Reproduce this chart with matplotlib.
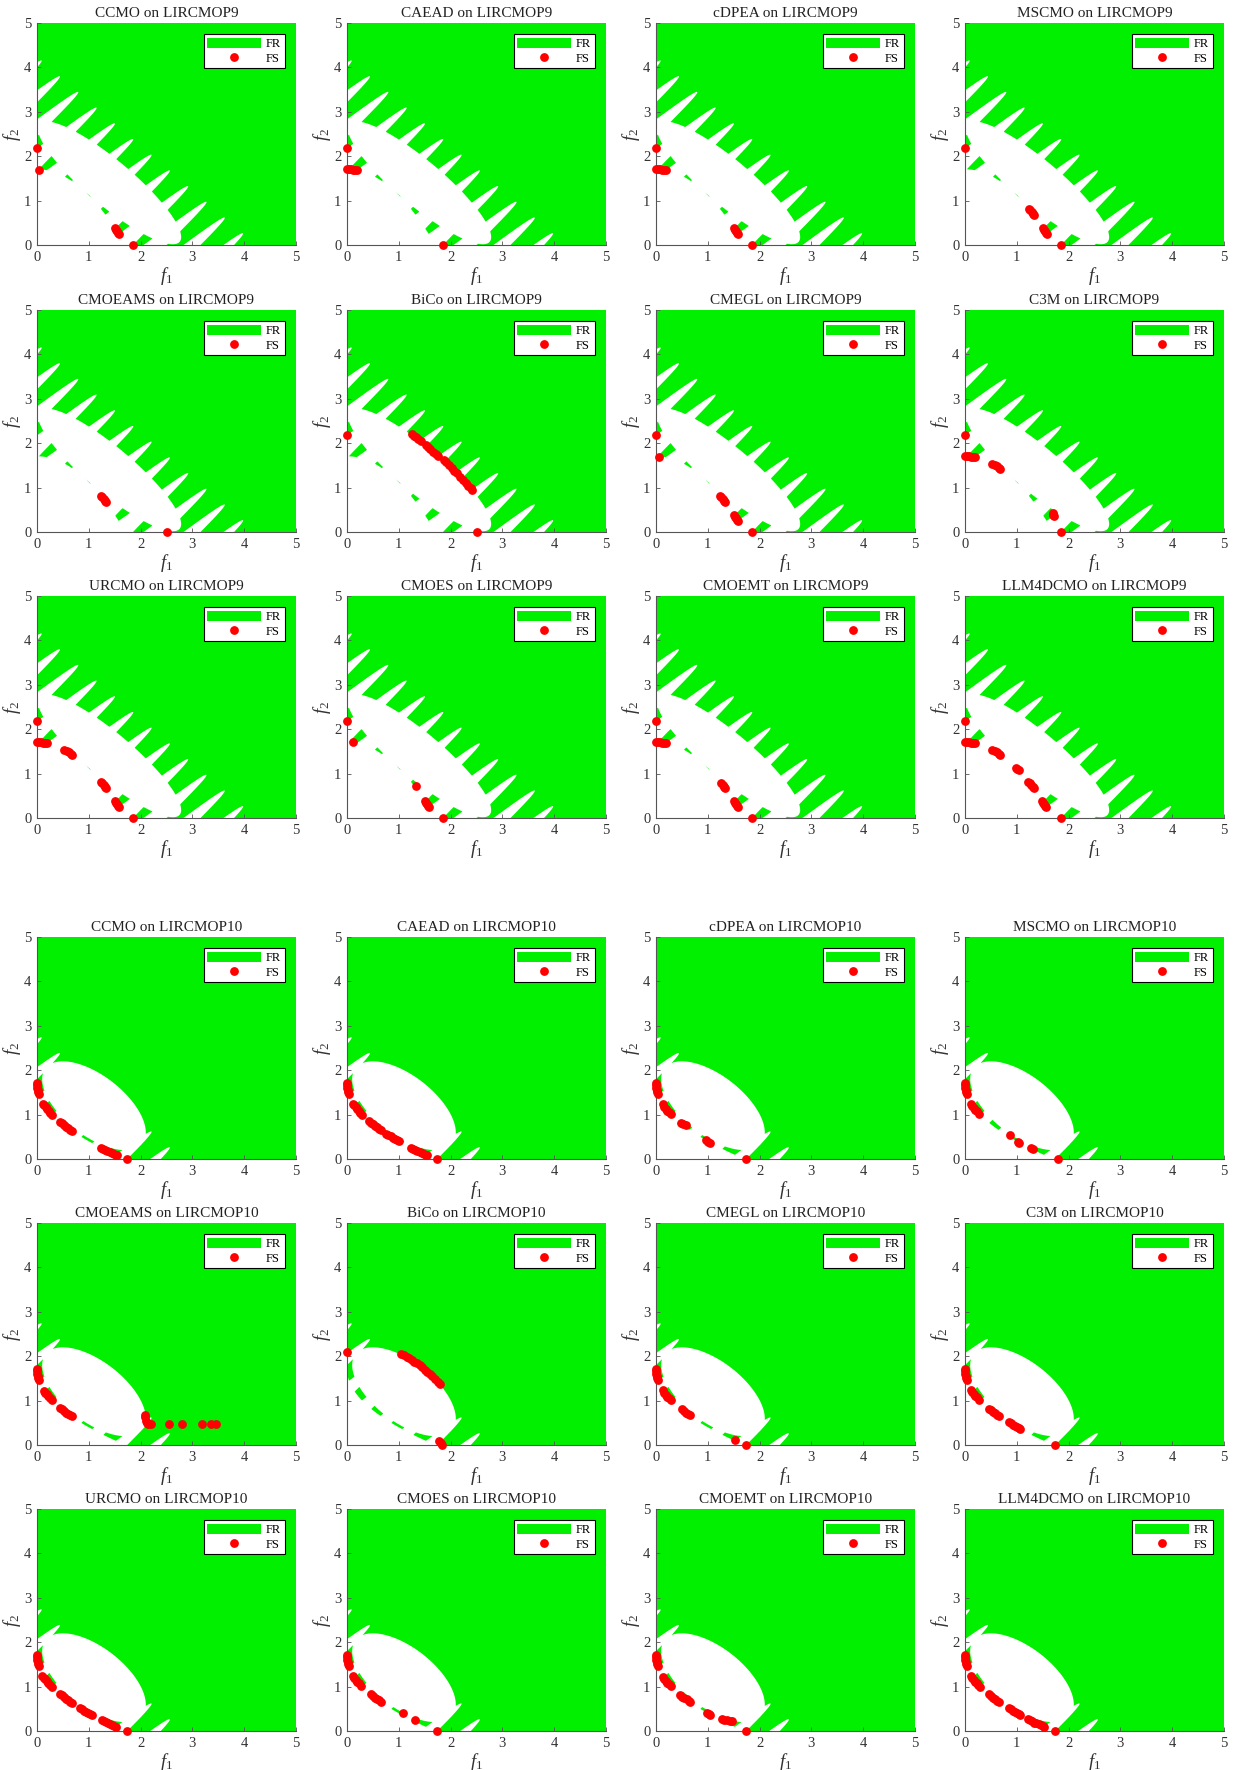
import numpy as np
import matplotlib.pyplot as plt
from matplotlib.patches import Patch
from matplotlib.lines import Line2D

plt.rcParams['font.family'] = ['Liberation Serif', 'DejaVu Serif']
plt.rcParams['mathtext.fontset'] = 'custom'
plt.rcParams['mathtext.it'] = 'Liberation Serif:italic'
plt.rcParams['mathtext.rm'] = 'Liberation Serif'

algorithms = ['CCMO', 'CAEAD', 'cDPEA', 'MSCMO', 'CMOEAMS', 'BiCo',
              'CMEGL', 'C3M', 'URCMO', 'CMOES', 'CMOEMT', 'LLM4DCMO']
problems = ['LIRCMOP9', 'LIRCMOP10']
ticks = [0, 1, 2, 3, 4, 5]

# final solutions (f1, f2) -- LIRCMOP9
ccmo_9 = [(0, 2.182), (0.04, 1.70), (1.50, 0.38), (1.52, 0.34), (1.54, 0.31), (1.56, 0.28),
          (1.58, 0.25), (1.856, 0)]
caead_9 = [(0, 2.182), (0.0, 1.705), (0.04, 1.704), (0.08, 1.702), (0.12, 1.697), (0.16, 1.69),
           (0.2, 1.682), (1.856, 0)]
cdpea_9 = [(0, 2.182), (0.0, 1.705), (0.04, 1.704), (0.08, 1.702), (0.12, 1.697), (0.16, 1.69),
           (0.2, 1.682), (1.50, 0.38), (1.52, 0.34), (1.54, 0.31), (1.56, 0.28), (1.58, 0.25),
           (1.856, 0)]
mscmo_9 = [(0, 2.182), (1.23, 0.82), (1.26, 0.78), (1.29, 0.74), (1.32, 0.70), (1.34, 0.67),
           (1.50, 0.38), (1.52, 0.34), (1.54, 0.31), (1.56, 0.28), (1.58, 0.25), (1.856, 0)]
cmoeams_9 = [(1.23, 0.82), (1.26, 0.78), (1.29, 0.74), (1.32, 0.70), (1.34, 0.67), (2.5, 0)]
bico_9 = [(0, 2.182), (1.25, 2.21), (1.29, 2.17), (1.33, 2.13), (1.38, 2.09), (1.43, 2.04),
          (1.52, 1.97), (1.56, 1.92), (1.61, 1.87), (1.66, 1.81), (1.71, 1.76), (1.76, 1.72),
          (1.88, 1.63), (1.92, 1.57), (1.97, 1.50), (2.02, 1.44), (2.07, 1.38), (2.12, 1.34),
          (2.19, 1.23), (2.24, 1.16), (2.29, 1.10), (2.34, 1.04), (2.39, 0.99), (2.42, 0.95),
          (2.5, 0)]
cmegl_9 = [(0, 2.182), (0.05, 1.70), (1.23, 0.82), (1.26, 0.78), (1.29, 0.74), (1.32, 0.70),
           (1.34, 0.67), (1.50, 0.38), (1.52, 0.34), (1.54, 0.31), (1.56, 0.28), (1.58, 0.25),
           (1.856, 0)]
c3m_9 = [(0, 2.182), (0.0, 1.705), (0.04, 1.704), (0.08, 1.702), (0.12, 1.697), (0.16, 1.69),
         (0.2, 1.682), (0.53, 1.54), (0.57, 1.51), (0.61, 1.48), (0.65, 1.45), (0.68, 1.43),
         (1.69, 0.42), (1.70, 0.38), (1.71, 0.35), (1.856, 0)]
urcmo_9 = [(0, 2.182), (0.0, 1.705), (0.04, 1.704), (0.08, 1.702), (0.12, 1.697), (0.16, 1.69),
           (0.2, 1.682), (0.53, 1.54), (0.57, 1.51), (0.61, 1.48), (0.65, 1.45), (0.68, 1.43),
           (1.23, 0.82), (1.26, 0.78), (1.29, 0.74), (1.32, 0.70), (1.34, 0.67), (1.50, 0.38),
           (1.52, 0.34), (1.54, 0.31), (1.56, 0.28), (1.58, 0.25), (1.856, 0)]
cmoes_9 = [(0, 2.182), (0.11, 1.72), (1.34, 0.71), (1.50, 0.38), (1.52, 0.34), (1.54, 0.31),
           (1.56, 0.28), (1.58, 0.25), (1.856, 0)]
cmoemt_9 = [(0, 2.182), (0.0, 1.705), (0.04, 1.704), (0.08, 1.702), (0.12, 1.697), (0.16, 1.69),
            (0.19, 1.684), (1.26, 0.79), (1.29, 0.74), (1.32, 0.70), (1.34, 0.67), (1.50, 0.38),
            (1.52, 0.34), (1.54, 0.31), (1.56, 0.28), (1.58, 0.25), (1.856, 0)]
llm4dcmo_9 = [(0, 2.182), (0.0, 1.705), (0.04, 1.704), (0.08, 1.702), (0.12, 1.697), (0.16, 1.69),
              (0.19, 1.684), (0.53, 1.54), (0.57, 1.51), (0.61, 1.48), (0.65, 1.45), (0.68, 1.43),
              (0.98, 1.13), (1.01, 1.11), (1.04, 1.09), (1.22, 0.82), (1.25, 0.78), (1.28, 0.74),
              (1.31, 0.70), (1.33, 0.67), (1.49, 0.38), (1.51, 0.34), (1.53, 0.31), (1.55, 0.28),
              (1.57, 0.25), (1.856, 0)]

# final solutions (f1, f2) -- LIRCMOP10
ccmo_10 = [(0.0, 1.71), (0.003, 1.66), (0.008, 1.61), (0.014, 1.56), (0.022, 1.51), (0.032, 1.47),
           (0.11, 1.25), (0.14, 1.21), (0.17, 1.16), (0.2, 1.12), (0.23, 1.08), (0.26, 1.04),
           (0.29, 1.0), (0.44, 0.84), (0.48, 0.80), (0.52, 0.77), (0.56, 0.73), (0.60, 0.70),
           (0.64, 0.66), (0.67, 0.64), (1.24, 0.25), (1.28, 0.23), (1.32, 0.21), (1.36, 0.18),
           (1.40, 0.16), (1.44, 0.14), (1.48, 0.12), (1.52, 0.10), (1.55, 0.09), (1.747, 0)]
caead_10 = [(0.0, 1.71), (0.003, 1.66), (0.008, 1.61), (0.014, 1.56), (0.022, 1.51), (0.032, 1.47),
            (0.11, 1.25), (0.14, 1.21), (0.17, 1.16), (0.2, 1.12), (0.23, 1.08), (0.26, 1.04),
            (0.29, 1.0), (0.42, 0.86), (0.46, 0.82), (0.50, 0.78), (0.54, 0.75), (0.58, 0.71),
            (0.62, 0.68), (0.66, 0.65), (0.76, 0.57), (0.80, 0.54), (0.84, 0.51), (0.88, 0.48),
            (0.92, 0.45), (0.96, 0.43), (1.0, 0.40), (1.24, 0.25), (1.28, 0.23), (1.32, 0.21),
            (1.36, 0.18), (1.40, 0.16), (1.44, 0.14), (1.48, 0.12), (1.52, 0.10), (1.55, 0.09),
            (1.747, 0)]
cdpea_10 = [(0.0, 1.71), (0.003, 1.66), (0.008, 1.61), (0.014, 1.56), (0.022, 1.51), (0.032, 1.47),
            (0.13, 1.23), (0.16, 1.18), (0.19, 1.13), (0.22, 1.09), (0.25, 1.05), (0.28, 1.01),
            (0.48, 0.80), (0.53, 0.78), (0.58, 0.76), (0.97, 0.42), (1.01, 0.39), (1.05, 0.37),
            (1.747, 0)]
mscmo_10 = [(0.0, 1.71), (0.003, 1.66), (0.008, 1.61), (0.014, 1.56), (0.022, 1.51), (0.032, 1.47),
            (0.11, 1.24), (0.14, 1.20), (0.17, 1.15), (0.2, 1.11), (0.23, 1.07), (0.27, 1.02),
            (0.86, 0.53), (1.02, 0.39), (1.05, 0.36), (1.27, 0.24), (1.32, 0.22), (1.8, 0)]
cmoeams_10 = [(0.0, 1.71), (0.003, 1.66), (0.008, 1.61), (0.014, 1.56), (0.022, 1.51), (0.032, 1.47),
              (0.13, 1.22), (0.16, 1.18), (0.19, 1.14), (0.22, 1.10), (0.25, 1.06), (0.29, 1.01),
              (0.44, 0.84), (0.48, 0.80), (0.52, 0.77), (0.56, 0.73), (0.60, 0.70), (0.64, 0.67),
              (0.67, 0.65), (2.08, 0.68), (2.09, 0.62), (2.10, 0.55), (2.12, 0.49), (2.15, 0.47),
              (2.2, 0.47), (2.55, 0.47), (2.8, 0.47), (3.18, 0.47), (3.35, 0.47), (3.45, 0.47)]
bico_10 = [(0, 2.10), (1.05, 2.05), (1.1, 2.02), (1.15, 1.99), (1.2, 1.96), (1.25, 1.92),
           (1.3, 1.88), (1.35, 1.84), (1.4, 1.80), (1.45, 1.75), (1.5, 1.70), (1.55, 1.65),
           (1.6, 1.60), (1.65, 1.55), (1.7, 1.49), (1.75, 1.43), (1.8, 1.37), (1.78, 0.09),
           (1.81, 0.05), (1.84, 0.01)]
cmegl_10 = [(0.0, 1.71), (0.003, 1.66), (0.008, 1.61), (0.014, 1.56), (0.022, 1.51), (0.032, 1.47),
            (0.13, 1.23), (0.16, 1.18), (0.19, 1.13), (0.22, 1.09), (0.25, 1.05), (0.28, 1.01),
            (0.50, 0.80), (0.54, 0.76), (0.58, 0.73), (0.62, 0.70), (0.66, 0.67), (1.52, 0.11),
            (1.747, 0)]
c3m_10 = [(0.0, 1.71), (0.003, 1.66), (0.008, 1.61), (0.014, 1.56), (0.022, 1.51), (0.032, 1.47),
          (0.11, 1.24), (0.14, 1.20), (0.17, 1.15), (0.2, 1.11), (0.23, 1.07), (0.27, 1.02),
          (0.46, 0.82), (0.50, 0.78), (0.54, 0.75), (0.58, 0.71), (0.62, 0.68), (0.65, 0.66),
          (0.84, 0.52), (0.88, 0.49), (0.92, 0.46), (0.96, 0.43), (1.0, 0.40), (1.04, 0.38),
          (1.07, 0.36), (1.747, 0)]
urcmo_10 = [(0.0, 1.71), (0.003, 1.66), (0.008, 1.61), (0.014, 1.56), (0.022, 1.51), (0.032, 1.47),
            (0.10, 1.24), (0.13, 1.20), (0.16, 1.16), (0.19, 1.12), (0.22, 1.08), (0.25, 1.04),
            (0.28, 1.0), (0.44, 0.84), (0.48, 0.80), (0.52, 0.77), (0.56, 0.73), (0.60, 0.70),
            (0.64, 0.66), (0.67, 0.64), (0.83, 0.52), (0.87, 0.49), (0.91, 0.46), (0.95, 0.43),
            (0.99, 0.40), (1.03, 0.38), (1.07, 0.36), (1.25, 0.25), (1.29, 0.22), (1.33, 0.20),
            (1.37, 0.18), (1.41, 0.16), (1.45, 0.14), (1.49, 0.12), (1.53, 0.10), (1.747, 0)]
cmoes_10 = [(0.0, 1.71), (0.003, 1.66), (0.008, 1.61), (0.014, 1.56), (0.022, 1.51), (0.032, 1.47),
            (0.11, 1.24), (0.14, 1.20), (0.17, 1.15), (0.2, 1.11), (0.23, 1.07), (0.27, 1.02),
            (0.46, 0.84), (0.50, 0.79), (0.54, 0.75), (0.58, 0.72), (0.62, 0.69), (0.66, 0.66),
            (1.09, 0.40), (1.32, 0.25), (1.747, 0)]
cmoemt_10 = [(0.0, 1.71), (0.003, 1.66), (0.008, 1.61), (0.014, 1.56), (0.022, 1.51), (0.032, 1.47),
             (0.13, 1.22), (0.16, 1.18), (0.19, 1.13), (0.22, 1.09), (0.25, 1.05), (0.28, 1.01),
             (0.47, 0.81), (0.51, 0.77), (0.55, 0.74), (0.59, 0.71), (0.63, 0.68), (0.66, 0.66),
             (0.99, 0.41), (1.02, 0.39), (1.05, 0.37), (1.27, 0.26), (1.32, 0.25), (1.37, 0.24),
             (1.42, 0.23), (1.46, 0.22), (1.747, 0)]
llm4dcmo_10 = [(0.0, 1.71), (0.003, 1.66), (0.008, 1.61), (0.014, 1.56), (0.022, 1.51), (0.032, 1.47),
               (0.11, 1.24), (0.14, 1.20), (0.17, 1.15), (0.2, 1.11), (0.23, 1.07), (0.26, 1.04),
               (0.29, 1.0), (0.46, 0.83), (0.50, 0.78), (0.54, 0.75), (0.58, 0.71), (0.62, 0.68),
               (0.65, 0.66), (0.84, 0.52), (0.88, 0.49), (0.92, 0.46), (0.96, 0.43), (1.0, 0.40),
               (1.04, 0.38), (1.07, 0.36), (1.22, 0.26), (1.26, 0.24), (1.30, 0.22), (1.34, 0.19),
               (1.38, 0.17), (1.42, 0.15), (1.46, 0.13), (1.50, 0.11), (1.53, 0.10), (1.747, 0)]

solutions = {
    'LIRCMOP9': [ccmo_9, caead_9, cdpea_9, mscmo_9, cmoeams_9, bico_9,
                 cmegl_9, c3m_9, urcmo_9, cmoes_9, cmoemt_9, llm4dcmo_9],
    'LIRCMOP10': [ccmo_10, caead_10, cdpea_10, mscmo_10, cmoeams_10, bico_10,
                  cmegl_10, c3m_10, urcmo_10, cmoes_10, cmoemt_10, llm4dcmo_10],
}

GREEN = '#00f000'
RED = '#ff0000'
AXC = '#555555'


def violation(problem, f1, f2):
    # max constraint value; <= 0 means feasible and attainable
    if problem == 'LIRCMOP9':
        p, q, a, b, r, c0 = 1.4, 1.4, 1.5, 6.0, 0.1, 2.0
        front = 1.7057 * (1 - np.minimum(f1 / 1.7057, 1) ** 2)
    else:
        p, q, a, b, r, c0 = 1.1, 1.2, 2.0, 4.0, 0.1, 1.0
        front = 1.7057 * (1 - np.sqrt(np.minimum(f1 / 1.7057, 1)))
    th = -0.25 * np.pi
    al = 0.25 * np.pi
    c1 = r - ((f1 - p) * np.cos(th) - (f2 - q) * np.sin(th)) ** 2 / a ** 2 \
        - ((f1 - p) * np.sin(th) + (f2 - q) * np.cos(th)) ** 2 / b ** 2
    c2 = c0 - f1 * np.sin(al) - f2 * np.cos(al) + np.sin(4 * np.pi * (f1 * np.cos(al) - f2 * np.sin(al)))
    c3 = front - f2
    return np.maximum(np.maximum(c1, c2), c3)


grid = np.linspace(0, 5, 900)
F1, F2 = np.meshgrid(grid, grid)

fig = plt.figure(figsize=(12.33, 17.70), dpi=100)
W, H = 1233.0, 1770.0
col_left = [37, 347, 656, 965]
row_top = [23, 310, 596, 937, 1223, 1509]
aw, ah = 259, 222

for pi_, prob in enumerate(problems):
    G = violation(prob, F1, F2)
    for k, alg in enumerate(algorithms):
        row = pi_ * 3 + k // 4
        col = k % 4
        ax = fig.add_axes([col_left[col] / W, 1 - (row_top[row] + ah) / H, aw / W, ah / H])
        ax.contourf(F1, F2, G, levels=[G.min() - 1, 0], colors=[GREEN], antialiased=True)
        pts = np.array(solutions[prob][k])
        ax.plot(pts[:, 0], pts[:, 1], 'o', color=RED, ms=5.3, mec=RED, ls='none',
                clip_on=False, zorder=4)
        ax.set_xlim(0, 5)
        ax.set_ylim(0, 5)
        ax.set_xticks(ticks)
        ax.set_yticks(ticks)
        ax.tick_params(direction='in', length=3, width=0.6, colors=AXC, labelsize=10.5,
                       labelcolor='#333333', pad=4)
        for s in ['top', 'right']:
            ax.spines[s].set_visible(False)
        for s in ['left', 'bottom']:
            ax.spines[s].set_color(AXC)
            ax.spines[s].set_linewidth(0.8)
        ax.set_title(f'{alg} on {prob}', fontsize=11, pad=4, color='#222222')
        ax.set_xlabel(r'$f_1$', fontsize=13.5, labelpad=1, color='#333333')
        ax.set_ylabel(r'$f_2$', fontsize=13.5, labelpad=1, color='#333333')
        handles = [Patch(facecolor=GREEN, edgecolor='none', label='FR'),
                   Line2D([], [], marker='o', color=RED, ls='none', ms=5.3, label='FS')]
        leg = ax.legend(handles=handles, loc='upper right', bbox_to_anchor=(1 - 11 / aw, 1 - 11 / ah),
                        borderaxespad=0, fontsize=9, handlelength=4.3, handleheight=0.9,
                        handletextpad=0.4, borderpad=0.3, labelspacing=0.15, fancybox=False,
                        framealpha=1, edgecolor='black')
        leg.get_frame().set_linewidth(0.8)

fig.savefig('out.png', dpi=100)
